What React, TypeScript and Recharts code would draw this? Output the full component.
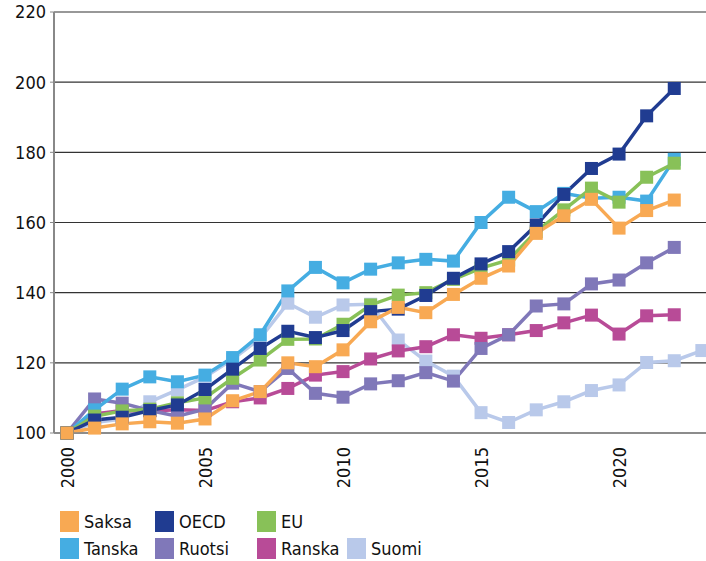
import React from "react";
import { LineChart, Line, XAxis, YAxis, CartesianGrid } from "recharts";

const years = [2000, 2001, 2002, 2003, 2004, 2005, 2006, 2007, 2008, 2009, 2010, 2011, 2012, 2013, 2014, 2015, 2016, 2017, 2018, 2019, 2020, 2021, 2022, 2023];
const saksa = [100, 101.4, 102.6, 103.2, 102.8, 104, 109.2, 111.8, 120, 118.9, 123.7, 131.7, 135.8, 134.3, 139.5, 144.1, 147.6, 156.9, 161.9, 166.6, 158.4, 163.4, 166.4, null];
const oecd = [100, 103.7, 104.5, 106.4, 108, 112.4, 118.2, 124.1, 129, 127.2, 129.2, 134.6, 135.3, 139.2, 144.1, 148.2, 151.7, 159.3, 168, 175.4, 179.5, 190.4, 198.2, null];
const eu = [100, 104.8, 106.3, 106.8, 108.6, 110, 115.6, 120.8, 126.7, 126.8, 131, 136.5, 139.3, 140, 143.8, 147, 149.3, 157.4, 163.6, 169.8, 165.8, 172.9, 176.9, null];
const tanska = [100, 106.6, 112.5, 116, 114.6, 116.5, 121.5, 128, 140.5, 147.2, 142.8, 146.7, 148.5, 149.5, 149, 160, 167.2, 163.1, 168.3, 166.9, 167.2, 166.1, 178, null];
const ruotsi = [100, 109.7, 108.5, 106.4, 104.8, 106.8, 114.2, 111.8, 118.4, 111.3, 110.2, 114, 114.9, 117.2, 114.8, 124.1, 128, 136.2, 136.8, 142.5, 143.6, 148.5, 152.9, null];
const ranska = [100, 105.4, 106.4, 106.3, 106.6, 106.4, 108.9, 110, 112.7, 116.5, 117.5, 121.1, 123.4, 124.6, 128, 127, 128, 129.2, 131.4, 133.6, 128.2, 133.4, 133.7, null];
const suomi = [100, 103, 104, 108.9, 112.3, 116, 121, 127, 137, 133, 136.5, 136.7, 126.5, 120.5, 116.2, 105.8, 103, 106.6, 108.9, 112.1, 113.7, 120.1, 120.6, 123.5];

const yTicks = [100, 120, 140, 160, 180, 200, 220];
const xTicks = [2000, 2005, 2010, 2015, 2020];

const FONT = "'DejaVu Sans Condensed', 'DejaVu Sans', sans-serif";

const series = [
  { key: "suomi", name: "Suomi", color: "#B9C9EA", values: suomi },
  { key: "ranska", name: "Ranska", color: "#B84B97", values: ranska },
  { key: "ruotsi", name: "Ruotsi", color: "#8078B9", values: ruotsi },
  { key: "tanska", name: "Tanska", color: "#45ADE2", values: tanska },
  { key: "eu", name: "EU", color: "#88C158", values: eu },
  { key: "oecd", name: "OECD", color: "#203C91", values: oecd },
  { key: "saksa", name: "Saksa", color: "#F8A953", values: saksa },
];

const legendRows = [
  ["saksa", "oecd", "eu"],
  ["tanska", "ruotsi", "ranska", "suomi"],
];
const legendCols = [60, 155, 257, 347];

const data = years.map((y, i) => {
  const row: any = { year: y };
  series.forEach((s) => {
    row[s.key] = s.values[i];
  });
  return row;
});

const makeDot = (color: string) => (props: any) => {
  const { cx, cy, index } = props;
  if (cx == null || cy == null || props.value == null) return <g key={"d" + index} />;
  return <rect key={"d" + index} x={cx - 6.5} y={cy - 6.5} width={13} height={13} fill={color} />;
};

const XTick = (props: any) => {
  const { x, y, payload } = props;
  return (
    <text
      x={0}
      y={0}
      transform={`translate(${x},${y + 6}) rotate(-90)`}
      textAnchor="end"
      dominantBaseline="central"
      fontSize={18}
      fontFamily={FONT}
      fill="#111"
    >
      {payload.value}
    </text>
  );
};

export default function App() {
  const byKey: any = {};
  series.forEach((s) => (byKey[s.key] = s));
  return (
    <div style={{ position: "absolute", left: 0, top: 0, width: 706, height: 561, background: "#fff", fontFamily: FONT }}>
      <LineChart width={706} height={500} data={data} margin={{ top: 12, right: 0, left: 0, bottom: 0 }}>
        <CartesianGrid vertical={false} stroke="#333" strokeWidth={1.2} />
        <XAxis
          dataKey="year"
          type="number"
          domain={[1999.529, 2023.15]}
          ticks={xTicks}
          height={67}
          tick={<XTick />}
          tickLine={false}
          axisLine={{ stroke: "#888", strokeWidth: 1.5 }}
        />
        <YAxis
          domain={[100, 220]}
          ticks={yTicks}
          width={54}
          tickSize={4}
          tickMargin={4}
          tickLine={{ stroke: "#888" }}
          axisLine={{ stroke: "#888", strokeWidth: 2 }}
          tick={{ fontSize: 18, fontFamily: FONT, fill: "#111" }}
        />
        {series.map((s) => (
          <Line
            key={s.key}
            dataKey={s.key}
            name={s.name}
            stroke={s.color}
            strokeWidth={3.5}
            dot={makeDot(s.color)}
            activeDot={false}
            isAnimationActive={false}
            connectNulls={false}
          />
        ))}
      </LineChart>
      {legendRows.map((row, ri) =>
        row.map((k, ci) => (
          <div
            key={k}
            style={{
              position: "absolute",
              left: legendCols[ci],
              top: 511 + ri * 27,
              height: 21,
              display: "flex",
              alignItems: "center",
              fontSize: 18,
              color: "#111",
              whiteSpace: "nowrap",
            }}
          >
            <span style={{ display: "inline-block", width: 19, height: 21, background: byKey[k].color, marginRight: 5 }} />
            <span>{byKey[k].name}</span>
          </div>
        ))
      )}
    </div>
  );
}
